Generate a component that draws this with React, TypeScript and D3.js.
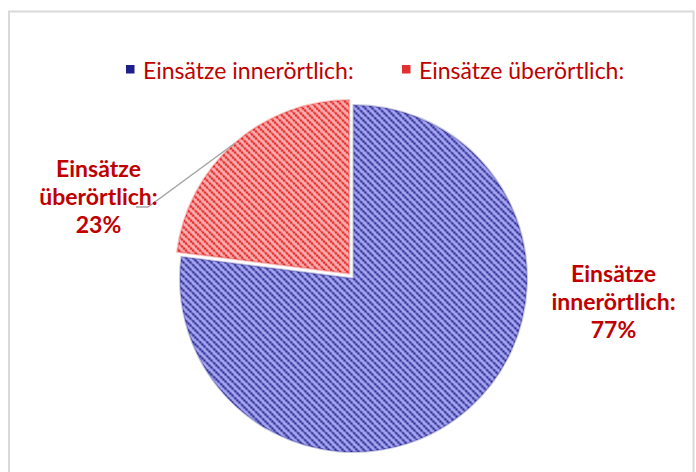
import React from "react";
import * as d3 from "d3";

const categories = ["Einsätze innerörtlich:", "Einsätze überörtlich:"];
const values = [77, 23];
const percentLabels = ["77%", "23%"];
const labelLines = [["Einsätze", "innerörtlich:"], ["Einsätze", "überörtlich:"]];

const W = 696;
const H = 472;
const cx = 353.5;
const cy = 278.5;
const R = 173.5;
const explode = [0, 6.5];
const bgColors = ["#a9a9f6", "#fbb2b2"];
const lineColors = ["#14147a", "#e00808"];
const legendSquare = ["#1f1f8a", "#e03030"];
const textRed = "#c00000";
const font = "Lato, 'DejaVu Sans', sans-serif";

export default function App() {
  const pie = d3.pie<number>().sort(null).startAngle(0).endAngle(2 * Math.PI)(values);
  const arc = d3.arc<d3.PieArcDatum<number>>().innerRadius(0).outerRadius(R);

  const offsets = pie.map((p, i) => {
    const mid = (p.startAngle + p.endAngle) / 2;
    return [Math.sin(mid) * explode[i], -Math.cos(mid) * explode[i]];
  });

  const p1 = pie[1];
  const mid1 = (p1.startAngle + p1.endAngle) / 2;
  const edgeX = cx + offsets[1][0] + Math.sin(mid1) * R;
  const edgeY = cy + offsets[1][1] - Math.cos(mid1) * R;

  const labelPos = [
    { x: 613.5, y: 282 },
    { x: 98.5, y: 177 },
  ];

  const legendX = [126, 402];

  return (
    <svg width={W} height={H} style={{ position: "absolute", left: 0, top: 0 }}>
      <defs>
        {[0, 1].map((i) => (
          <pattern key={i} id={`hatch${i}`} patternUnits="userSpaceOnUse" width={7} height={7}>
            <rect width={7} height={7} fill={bgColors[i]} />
            <path d="M-2,-2 L9,9 M-2,5 L2,9 M5,-2 L9,2" stroke={lineColors[i]} strokeWidth={2.2} strokeDasharray="2.2 0.7" opacity={0.9} />
          </pattern>
        ))}
      </defs>
      <rect width={W} height={H} fill="#fff" />
      <rect x={9} y={11.5} width={684.5} height={520} fill="none" stroke="#d9d9d9" strokeWidth={2} />

      {pie.map((p, i) => (
        <g key={i} transform={`translate(${cx + offsets[i][0]},${cy + offsets[i][1]})`}>
          <path d={arc(p) || ""} fill={`url(#hatch${i})`} stroke={lineColors[i]} strokeOpacity={0.25} strokeWidth={2} />
        </g>
      ))}

      <polyline
        points={`136,207 148,207 ${edgeX.toFixed(1)},${edgeY.toFixed(1)}`}
        fill="none"
        stroke="#a6a6a6"
        strokeWidth={1.5}
      />

      {labelLines.map((lines, i) => (
        <text key={i} fill={textRed} fontFamily={font} fontWeight={700} fontSize={23} textAnchor="middle">
          {[...lines, percentLabels[i]].map((t, j) => (
            <tspan key={j} x={labelPos[i].x} y={labelPos[i].y + j * 28}>
              {t}
            </tspan>
          ))}
        </text>
      ))}

      {categories.map((c, i) => (
        <g key={c}>
          <rect x={legendX[i]} y={65} width={8.5} height={8.5} fill={legendSquare[i]} />
          <text x={legendX[i] + 17} y={79} fill={textRed} fontFamily={font} fontSize={23}>
            {c}
          </text>
        </g>
      ))}
    </svg>
  );
}
